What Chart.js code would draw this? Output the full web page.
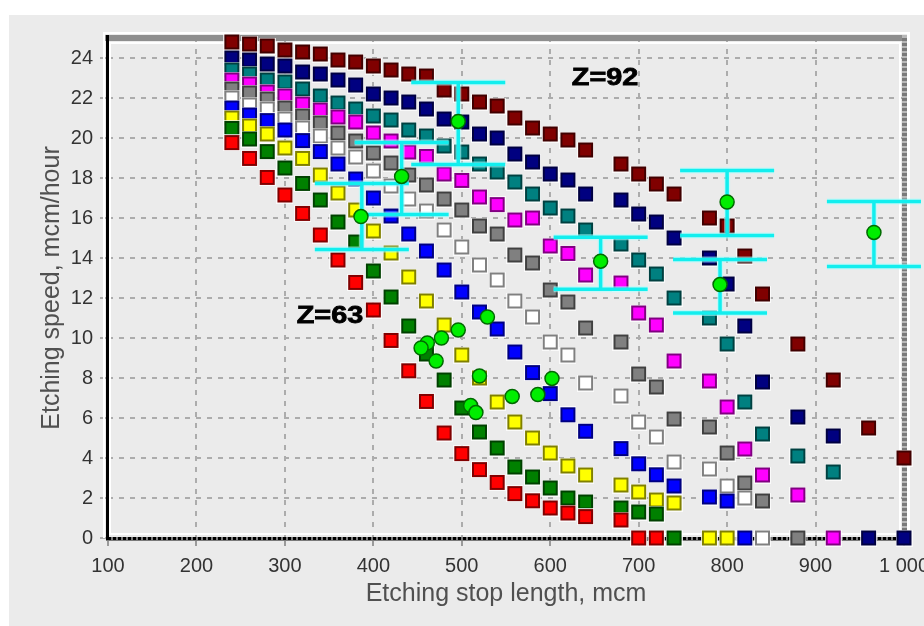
<!DOCTYPE html>
<html>
<head>
<meta charset="utf-8">
<script src="https://cdn.jsdelivr.net/npm/chart.js@4/dist/chart.umd.min.js"></script>
<style>
html,body{margin:0;padding:0;background:#fff;}
#wrap{width:924px;height:626px;position:relative;}
</style>
</head>
<body>
<div id="wrap"><canvas id="c" width="924" height="626"></canvas></div>
<script>
// ---- data ----
const stopLength = [240,260,280,300,320,340,360,380,400,420,440,460,480,500,520,540,560,580,600,620,640,680,700,720,740,780,800,820,840,880,920,960,1000];

const maroonSpeed  = [24.8,24.7,24.6,24.4,24.3,24.2,23.9,23.8,23.6,23.4,23.2,23.1,22.4,22.2,21.8,21.6,21.0,20.5,20.2,19.9,19.4,18.7,18.2,17.7,17.2,16.0,15.6,14.1,12.2,9.7,7.9,5.5,4.0];
const navySpeed    = [24.0,23.9,23.7,23.6,23.3,23.2,22.9,22.65,22.2,22.0,21.8,21.45,20.95,20.8,20.2,20.0,19.2,18.8,18.2,17.9,17.2,16.9,16.2,15.8,15.0,14.0,12.7,10.6,7.8,6.05,5.1,0,0];
const tealSpeed    = [23.4,23.2,22.9,22.8,22.45,22.1,21.75,21.45,21.1,20.9,20.4,20.1,19.6,19.3,18.7,18.3,17.8,17.2,16.5,16.1,15.4,14.7,13.9,13.2,12.0,11.0,9.7,6.8,5.2,4.1,3.3];
const magentaSpeed = [22.9,22.7,22.3,22.1,21.7,21.4,21.05,20.8,20.25,19.85,19.3,19.08,18.2,17.88,17.05,16.67,15.9,16.0,14.6,14.23,13.15,12.75,11.25,10.65,8.85,7.85,6.55,4.45,3.15,2.15,0];
const graySpeed    = [22.45,22.25,21.95,21.5,21.1,20.75,20.25,19.85,19.25,18.75,18.15,17.65,16.95,16.4,15.6,15.2,14.15,13.75,12.4,11.8,10.5,9.8,8.2,7.55,5.95,5.55,4.25,2.75,1.85,0];
const whiteSpeed   = [22.0,21.65,21.45,20.95,20.5,20.1,19.5,19.05,18.35,17.6,16.95,16.35,15.4,14.55,13.65,12.9,11.85,11.05,9.8,9.15,7.75,7.1,5.8,5.05,3.8,3.45,2.6,2.0,0];
const blueSpeed    = [21.5,21.15,20.87,20.4,19.87,19.32,18.7,17.95,17.0,16.1,15.2,14.35,13.4,12.3,11.3,10.45,9.3,8.27,7.22,6.16,5.34,4.47,3.71,3.16,2.6,2.05,1.85,0];
const yellowSpeed  = [21.0,20.6,20.2,19.5,18.98,18.15,17.25,16.4,15.35,14.25,13.05,11.85,10.65,9.15,8.0,6.8,5.8,5.0,4.25,3.6,3.15,2.65,2.3,1.9,1.75,0,0];
const greenSpeed   = [20.48,19.95,19.32,18.5,17.73,16.9,15.8,14.8,13.35,12.05,10.6,9.2,7.9,6.5,5.3,4.5,3.55,3.05,2.5,2.0,1.8,1.5,1.3,1.2,0];
const redSpeed     = [19.77,18.98,18.03,17.15,16.23,15.15,13.9,12.78,11.4,9.88,8.36,6.83,5.25,4.22,3.42,2.78,2.22,1.86,1.5,1.25,1.07,0.9,0,0];

// measured points (green circles)
const measuredX = [529,496,477,461,454,471,520,602,557,586,510,516,496,432,386,657,800,792,966];
const measuredY = [11.05,10.4,10.0,9.75,9.5,8.85,8.1,7.98,7.08,7.17,6.62,6.27,20.83,18.08,16.07,13.84,16.8,12.67,15.28];

// error bars
const errX    = [496,432,387,657,800,792,966];
const errLow  = [18.67,16.17,14.42,12.44,15.13,11.25,13.58];
const errHigh = [22.78,19.78,17.72,15.04,18.37,13.92,16.83];

// annotations
const noteText = ['Z=92','Z=63'];
const noteX = [662,351];
const noteY = [22.97,11.07];

// axis ticks
const xTicks = [100,200,300,400,500,600,700,800,900,1000];
const yTicks = [0,2,4,6,8,10,12,14,16,18,20,22,24];

// ---- styles ----
const seriesList = [maroonSpeed,navySpeed,tealSpeed,magentaSpeed,graySpeed,whiteSpeed,blueSpeed,yellowSpeed,greenSpeed,redSpeed];
const seriesColors = ['#800000','#000080','#008080','#ff00ff','#808080','#ffffff','#0000ff','#ffff00','#008000','#ff0000'];

function hasFont(name){
  const g = document.createElement('canvas').getContext('2d');
  g.font = '40px monospace';
  const a = g.measureText('100 Etching').width;
  g.font = '40px "' + name + '", monospace';
  const b = g.measureText('100 Etching').width;
  return Math.abs(a - b) > 0.5;
}
const narrow = hasFont('Liberation Sans Narrow');

function shade(hex){
  const n = parseInt(hex.slice(1),16);
  const r=(n>>16)&255, g=(n>>8)&255, b=n&255;
  return 'rgb(' + Math.round(r*0.5) + ',' + Math.round(g*0.5) + ',' + Math.round(b*0.5) + ')';
}
function squareMarker(fill){
  const c = document.createElement('canvas');
  c.width = 17; c.height = 17;
  const g = c.getContext('2d');
  g.fillStyle = 'rgba(255,255,255,0.75)'; g.fillRect(0,0,17,17);
  g.fillStyle = shade(fill); g.fillRect(1,1,15,15);
  g.fillStyle = fill; g.fillRect(3,3,11,11);
  return c;
}

const datasets = seriesList.map((vals,i)=>({
  label: 'series' + i,
  data: vals.map((v,j)=>({x: stopLength[j], y: v})),
  pointStyle: squareMarker(seriesColors[i]),
  pointRadius: 8,
  showLine: false,
  clip: false,
  order: 20 - i
}));
datasets.push({
  label: 'Measured',
  data: measuredX.map((v,i)=>({x: v, y: measuredY[i]})),
  pointStyle: 'circle',
  pointRadius: 7,
  backgroundColor: '#00ee00',
  borderColor: '#006a00',
  borderWidth: 1.5,
  showLine: false,
  clip: false,
  order: 0
});

const bgPlugin = {
  id: 'bg',
  beforeDraw(chart){
    const ctx = chart.ctx;
    ctx.save();
    ctx.fillStyle = '#ffffff'; ctx.fillRect(0,0,chart.width,chart.height);
    ctx.fillStyle = '#ebebeb'; ctx.fillRect(9,15,chart.width-9,chart.height-15);
    ctx.restore();
  }
};

const framePlugin = {
  id: 'frame',
  beforeDatasetsDraw(chart){
    const {ctx, chartArea:{left:L, top:T, right:R, bottom:B}} = chart;
    ctx.save();
    ctx.fillStyle = '#ffffff';
    ctx.fillRect(L-5, T-6, R-L+11, 2);
    ctx.fillRect(L-5, T-6, 2, B-T+6);
    ctx.fillRect(R+3, T-6, 3, B-T+8);
    ctx.fillRect(L+2, T+4, R-L-6, 2);
    ctx.fillRect(L+1, T+4, 2, B-T-8);
    ctx.fillRect(L+1, B-5, R-L-4, 2);
    ctx.fillRect(R-5, T+4, 2, B-T-8);
    ctx.fillStyle = '#8e8e8e';
    ctx.fillRect(L-3, T-3, R-L+6, 6);
    ctx.fillStyle = '#b8b8b8';
    ctx.fillRect(R-2, T-3, 5, B-T+4);
    ctx.strokeStyle = '#7a7a7a'; ctx.lineWidth = 5; ctx.setLineDash([3,2]);
    ctx.beginPath(); ctx.moveTo(R+0.5, T); ctx.lineTo(R+0.5, B); ctx.stroke();
    ctx.setLineDash([]);
    ctx.fillStyle = '#7a7a7a';
    ctx.fillRect(L-2, B-1, R-L+4, 4);
    ctx.strokeStyle = '#000000'; ctx.lineWidth = 3; ctx.setLineDash([3,2]);
    ctx.beginPath(); ctx.moveTo(L, B+0.5); ctx.lineTo(R+2, B+0.5); ctx.stroke();
    ctx.setLineDash([]);
    ctx.fillStyle = '#000000';
    ctx.fillRect(L-2, T-3, 3, B-T+5);
    ctx.restore();
  }
};

const errorBarPlugin = {
  id: 'errbars',
  beforeDatasetDraw(chart, args){
    if (chart.data.datasets[args.index].label !== 'Measured') return;
    const {ctx, scales:{x, y}} = chart;
    const half = 47;
    ctx.save();
    const passes = [['rgba(170,255,255,0.6)', 6], ['#12eeee', 3.5]];
    passes.forEach(([col, w])=>{
      ctx.strokeStyle = col; ctx.lineWidth = w;
      errX.forEach((xv,i)=>{
        const px = x.getPixelForValue(xv);
        const pt = y.getPixelForValue(errHigh[i]);
        const pb = y.getPixelForValue(errLow[i]);
        ctx.beginPath();
        ctx.moveTo(px, pt); ctx.lineTo(px, pb);
        ctx.moveTo(px-half, pt); ctx.lineTo(px+half, pt);
        ctx.moveTo(px-half, pb); ctx.lineTo(px+half, pb);
        ctx.stroke();
      });
    });
    ctx.restore();
  }
};

const notePlugin = {
  id: 'notes',
  afterDatasetsDraw(chart){
    const {ctx, scales:{x, y}} = chart;
    ctx.save();
    ctx.font = 'bold 24px "Liberation Sans", Arial, sans-serif';
    ctx.textAlign = 'center';
    ctx.textBaseline = 'middle';
    ctx.fillStyle = '#000';
    ctx.strokeStyle = '#000';
    ctx.lineWidth = 0.8;
    noteText.forEach((t,i)=>{
      ctx.save();
      ctx.translate(x.getPixelForValue(noteX[i]), y.getPixelForValue(noteY[i]));
      ctx.scale(1.2, 1);
      ctx.fillText(t, 0, 0);
      ctx.strokeText(t, 0, 0);
      ctx.restore();
    });
    ctx.restore();
  }
};

const tickFont = narrow
  ? {family: '"Liberation Sans Narrow", "Liberation Sans", Arial, sans-serif', size: 23}
  : {family: '"Liberation Sans", Arial, sans-serif', size: 20};
const xTickPad = narrow ? 6 : 8;
const titleFont = {family: '"Liberation Sans", Arial, sans-serif', size: 25};

new Chart(document.getElementById('c'), {
  type: 'scatter',
  data: {datasets},
  plugins: [bgPlugin, framePlugin, errorBarPlugin, notePlugin],
  options: {
    responsive: false,
    animation: false,
    events: [],
    layout: {padding: {top: 38, right: 20, bottom: 0, left: 0}},
    plugins: {legend: {display: false}, tooltip: {enabled: false}},
    scales: {
      x: {
        type: 'linear', min: 100, max: 1000,
        afterBuildTicks(s){ s.ticks = xTicks.map(v=>({value: v})); },
        afterFit(s){ s.height = 88; s.paddingLeft = 0; s.paddingRight = 0; },
        ticks: {
          autoSkip: false, maxRotation: 0, padding: xTickPad, color: '#333',
          font: tickFont,
          callback: v => String(v).replace(/\B(?=(\d{3})+(?!\d))/g, ' ')
        },
        grid: {color: '#acacac', lineWidth: 2, tickLength: 8, tickColor: '#9a9a9a', tickWidth: 2},
        border: {display: false, dash: [5,6]},
        title: {display: true, text: 'Etching stop length, mcm', color: '#505050', font: titleFont, padding: {top: 0, bottom: 17}}
      },
      y: {
        type: 'linear', min: 0, max: 25,
        afterBuildTicks(s){ s.ticks = yTicks.map(v=>({value: v})); },
        afterFit(s){ s.width = 108; s.paddingTop = 0; s.paddingBottom = 0; },
        ticks: {padding: 7, color: '#333', font: tickFont},
        grid: {color: '#acacac', lineWidth: 2, tickLength: 8, tickColor: '#acacac', tickWidth: 2},
        border: {display: false, dash: [5,6]},
        title: {display: true, text: 'Etching speed, mcm/hour', color: '#505050', font: titleFont, padding: {top: 37, bottom: 0}}
      }
    }
  }
});
</script>
</body>
</html>
